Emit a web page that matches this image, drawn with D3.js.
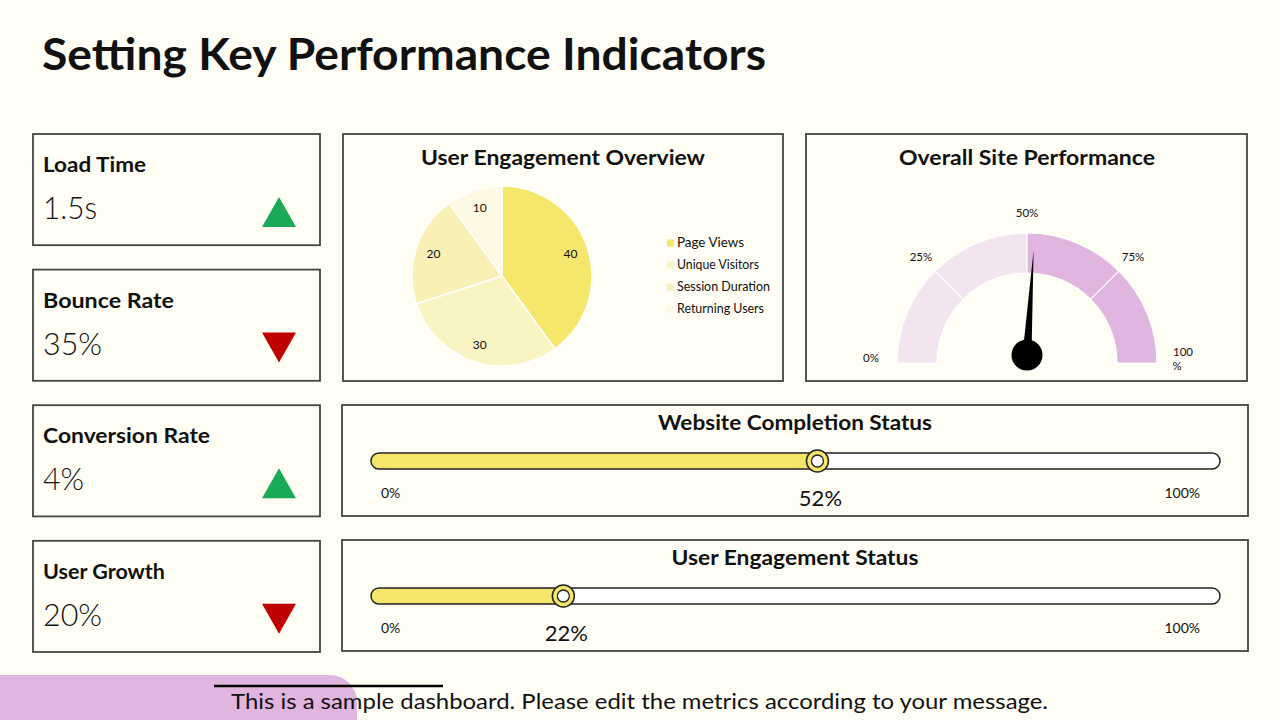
<!DOCTYPE html>
<html>
<head>
<meta charset="utf-8">
<script src="https://cdn.jsdelivr.net/npm/d3@7"></script>
<style>
  html, body { margin: 0; padding: 0; background: #FFFEF5; }
  svg { display: block; }
  text { font-family: "Lato", "DejaVu Sans", sans-serif; fill: #111; }
</style>
</head>
<body>
<svg id="chart" width="1280" height="720"></svg>
<script>
// ---------------- DATA ----------------
const pageTitle = "Setting Key Performance Indicators";
const footerText = "This is a sample dashboard. Please edit the metrics according to your message.";

const kpiLabels = ["Load Time", "Bounce Rate", "Conversion Rate", "User Growth"];
const kpiValues = ["1.5s", "35%", "4%", "20%"];
const kpiTrends = ["up", "down", "up", "down"];

const pieTitle = "User Engagement Overview";
const pieCategories = ["Page Views", "Unique Visitors", "Session Duration", "Returning Users"];
const pieValues = [40, 30, 20, 10];

const gaugeTitle = "Overall Site Performance";
const gaugeTickValues = [0, 25, 50, 75, 100];
const gaugeTickLabels = ["0%", "25%", "50%", "75%", "100%"];
const gaugeValue = 52;

const progressTitles = ["Website Completion Status", "User Engagement Status"];
const progressValues = [52, 22];
const progressEndLabels = ["0%", "100%"];

// ---------------- STYLE ----------------
const C = {
  bg: "#FFFEF5",
  border: "#444444",
  green: "#1AAA55",
  red: "#C00000",
  pie: ["#F5E76C", "#FAF4C2", "#F8F0B4", "#FDF9E2"],
  gaugeLight: "#F3E4EF",
  gaugeDark: "#E0B5E0",
  barFill: "#F5E66B",
  pink: "#E0B5E0"
};

const svg = d3.select("#chart");
svg.append("rect").attr("width", 1280).attr("height", 720).attr("fill", C.bg);

function fit(sel, w) {
  return sel.attr("textLength", w).attr("lengthAdjust", "spacingAndGlyphs");
}

// Title
fit(svg.append("text").attr("x", 42).attr("y", 70)
  .attr("font-size", 44).attr("font-weight", 700).attr("fill", "#000").text(pageTitle), 724);

// ---------------- KPI CARDS ----------------
const cardY = d3.scaleBand().domain(d3.range(kpiLabels.length)).range([134, 652]).paddingInner(0.18);
const labelW = [103, 131, 167, 122];
const valueW = [54, 59, 41, 59];
kpiLabels.forEach((lab, i) => {
  const y0 = cardY(i);
  const g = svg.append("g");
  g.append("rect").attr("x", 33).attr("y", y0).attr("width", 287).attr("height", cardY.bandwidth())
    .attr("fill", C.bg).attr("stroke", C.border).attr("stroke-width", 1.8);
  fit(g.append("text").attr("x", 43).attr("y", y0 + 38).attr("font-size", 20).attr("font-weight", 700).attr("fill", "#000").text(lab), labelW[i]);
  fit(g.append("text").attr("x", 43).attr("y", y0 + 85).attr("font-size", 31).attr("font-weight", 300).attr("fill", "#000").text(kpiValues[i]), valueW[i]);
  const cx = 279, cy = y0 + 78, hw = 17, hh = 15;
  const pts = kpiTrends[i] === "up"
    ? [[cx, cy - hh], [cx + hw, cy + hh], [cx - hw, cy + hh]]
    : [[cx - hw, cy - hh], [cx + hw, cy - hh], [cx, cy + hh]];
  g.append("path").attr("d", d3.line()(pts) + "Z").attr("fill", kpiTrends[i] === "up" ? C.green : C.red);
});

// ---------------- PIE PANEL ----------------
const pie = svg.append("g");
pie.append("rect").attr("x", 343).attr("y", 134).attr("width", 440).attr("height", 247)
  .attr("fill", C.bg).attr("stroke", C.border).attr("stroke-width", 1.8);
fit(pie.append("text").attr("x", 563).attr("y", 165).attr("text-anchor", "middle")
  .attr("font-size", 20).attr("font-weight", 700).attr("fill", "#000").text(pieTitle), 284);

const pieColor = d3.scaleOrdinal().domain(pieCategories).range(C.pie);
const arcs = d3.pie().sort(null).value(d => d)(pieValues);
const R = 90;
const arcGen = d3.arc().innerRadius(0).outerRadius(R);
const labelArc = d3.arc().innerRadius(72).outerRadius(72);
const pg = pie.append("g").attr("transform", "translate(502,276)");
pg.selectAll("path").data(arcs).join("path")
  .attr("d", arcGen)
  .attr("fill", (d, i) => pieColor(pieCategories[i]))
  .attr("stroke", "#FFFFFF").attr("stroke-width", 1.5);
pg.selectAll("text").data(arcs).join("text")
  .attr("transform", d => `translate(${labelArc.centroid(d)})`)
  .attr("text-anchor", "middle").attr("dy", "0.35em")
  .attr("font-size", 12).attr("fill", "#333")
  .text(d => d.data);

const legY = d3.scalePoint().domain(pieCategories).range([243, 309]);
const legW = [67, 82, 93, 87];
const lg = pie.append("g");
pieCategories.forEach((c, i) => {
  lg.append("rect").attr("x", 667).attr("y", legY(c) - 3.5).attr("width", 7).attr("height", 7).attr("fill", pieColor(c));
  fit(lg.append("text").attr("x", 677).attr("y", legY(c)).attr("dy", "0.35em")
    .attr("font-size", 12.5).attr("fill", "#333").text(c), legW[i]);
});

// ---------------- GAUGE PANEL ----------------
const gp = svg.append("g");
gp.append("rect").attr("x", 806).attr("y", 134).attr("width", 441).attr("height", 247)
  .attr("fill", C.bg).attr("stroke", C.border).attr("stroke-width", 1.8);
fit(gp.append("text").attr("x", 1027).attr("y", 165).attr("text-anchor", "middle")
  .attr("font-size", 20).attr("font-weight", 700).attr("fill", "#000").text(gaugeTitle), 256);

const gcx = 1027, gcy = 363;
const angle = d3.scaleLinear().domain([0, 100]).range([-Math.PI / 2, Math.PI / 2]);
const gArc = d3.arc().innerRadius(90).outerRadius(130);
const gg = gp.append("g").attr("transform", `translate(${gcx},${gcy})`);
const segs = d3.pairs(gaugeTickValues);
gg.selectAll("path.seg").data(segs).join("path").attr("class", "seg")
  .attr("d", d => gArc({ startAngle: angle(d[0]), endAngle: angle(d[1]) }))
  .attr("fill", d => d[1] <= 50 ? C.gaugeLight : C.gaugeDark)
  .attr("stroke", "#FFFFFF").attr("stroke-width", 1.2);

gaugeTickValues.forEach((v, i) => {
  const a = angle(v);
  const edge = (v === 0 || v === 100);
  const r = edge ? 156 : 150;
  const x = Math.sin(a) * r, y = -Math.cos(a) * r - (edge ? 5 : 0);
  const t = gg.append("text").attr("x", x).attr("y", y).attr("text-anchor", "middle")
    .attr("dy", "0.35em").attr("font-size", 11.5).attr("fill", "#333");
  if (v === 100) {
    t.append("tspan").attr("x", x).attr("dy", "-0.15em").text(gaugeTickLabels[i].slice(0, 3));
    t.append("tspan").attr("x", x - 6).attr("dy", "1.15em").text(gaugeTickLabels[i].slice(3));
  } else {
    t.text(gaugeTickLabels[i]);
  }
});

// needle
const hubY = -8;
const na = angle(gaugeValue);
const nLen = 105, nHalf = 4.5;
const tip = [Math.sin(na) * nLen, hubY - Math.cos(na) * nLen];
const perp = [Math.cos(na) * nHalf, Math.sin(na) * nHalf];
gg.append("path").attr("d", d3.line()([[perp[0], hubY + perp[1]], tip, [-perp[0], hubY - perp[1]]]) + "Z")
  .attr("fill", "#000");
gg.append("circle").attr("cx", 0).attr("cy", hubY).attr("r", 15.5).attr("fill", "#000");

// ---------------- PROGRESS PANELS ----------------
const barX0 = 371, barX1 = 1220;
const px = d3.scaleLinear().domain([0, 100]).range([377, 1224]);
const panelY = [405, 540];
const titleW = [274, 247];
progressTitles.forEach((title, i) => {
  const y0 = panelY[i];
  const g = svg.append("g");
  g.append("rect").attr("x", 342).attr("y", y0).attr("width", 906).attr("height", 111)
    .attr("fill", C.bg).attr("stroke", C.border).attr("stroke-width", 1.8);
  fit(g.append("text").attr("x", 795).attr("y", y0 + 25).attr("text-anchor", "middle")
    .attr("font-size", 20).attr("font-weight", 700).attr("fill", "#000").text(title), titleW[i]);
  const by = y0 + 48, bh = 16;
  const v = progressValues[i];
  const kx = px(v);
  g.append("rect").attr("x", barX0).attr("y", by).attr("width", barX1 - barX0).attr("height", bh)
    .attr("rx", bh / 2).attr("fill", "#FFFFFF");
  g.append("rect").attr("x", barX0).attr("y", by).attr("width", kx - barX0 + 2).attr("height", bh)
    .attr("rx", bh / 2).attr("fill", C.barFill);
  g.append("rect").attr("x", barX0).attr("y", by).attr("width", barX1 - barX0).attr("height", bh)
    .attr("rx", bh / 2).attr("fill", "none").attr("stroke", "#222").attr("stroke-width", 1.5);
  g.append("circle").attr("cx", kx).attr("cy", by + bh / 2).attr("r", 11)
    .attr("fill", C.barFill).attr("stroke", "#222").attr("stroke-width", 1.5);
  g.append("circle").attr("cx", kx).attr("cy", by + bh / 2).attr("r", 6)
    .attr("fill", "#FFFFFF").attr("stroke", "#222").attr("stroke-width", 1.3);
  g.append("text").attr("x", 381).attr("y", y0 + 93).attr("font-size", 14).attr("fill", "#222").text(progressEndLabels[0]);
  g.append("text").attr("x", 1200).attr("y", y0 + 93).attr("text-anchor", "end").attr("font-size", 14).attr("fill", "#222").text(progressEndLabels[1]);
  g.append("text").attr("x", kx + 3).attr("y", y0 + 101).attr("text-anchor", "middle").attr("font-size", 22).attr("fill", "#222").text(v + "%");
});

// ---------------- FOOTER ----------------
svg.append("path").attr("d", "M0,675 H330 A27,27 0 0 1 357,702 V720 H0 Z").attr("fill", C.pink);
svg.append("line").attr("x1", 214).attr("x2", 443).attr("y1", 686).attr("y2", 686)
  .attr("stroke", "#000").attr("stroke-width", 2.5);
fit(svg.append("text").attr("x", 231).attr("y", 709).attr("font-size", 21).attr("fill", "#111").text(footerText), 817);
</script>
</body>
</html>
